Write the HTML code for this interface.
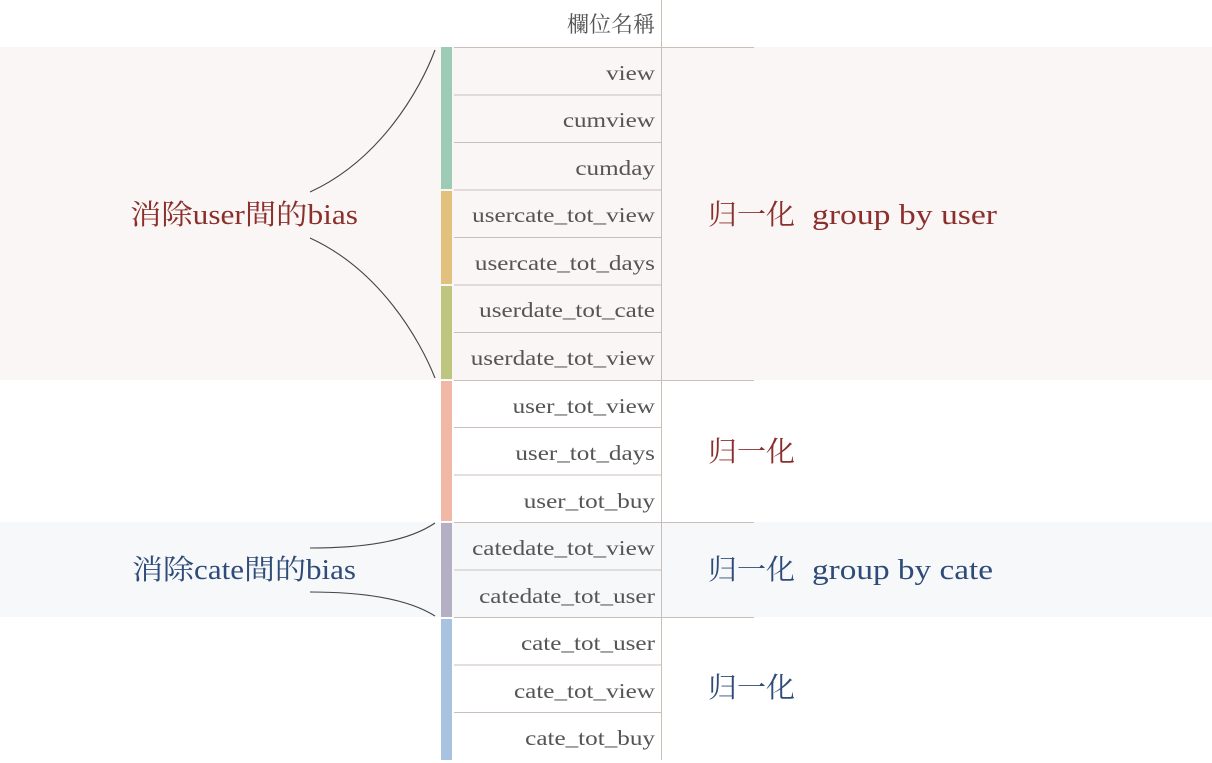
<!DOCTYPE html>
<html><head><meta charset="utf-8"><style>
html,body{margin:0;padding:0;background:#fff;}
svg{display:block}
text{font-family:"Liberation Serif","Noto Serif CJK SC",serif;}
</style></head><body>
<svg width="1212" height="763" viewBox="0 0 1212 763" xmlns="http://www.w3.org/2000/svg">
<rect x="0" y="47" width="1212" height="333" fill="#faf6f5"/>
<rect x="0" y="522" width="1212" height="95" fill="#f6f8fa"/>
<rect x="441" y="47" width="11" height="142" fill="#9dcbb5"/>
<rect x="441" y="191" width="11" height="93" fill="#e2c17e"/>
<rect x="441" y="286" width="11" height="93" fill="#bdc57f"/>
<rect x="441" y="381" width="11" height="140" fill="#f1b8a6"/>
<rect x="441" y="523" width="11" height="94" fill="#b5afc3"/>
<rect x="441" y="619" width="11" height="141" fill="#a7c3df"/>
<g stroke="#c9bfb8" stroke-width="1">
<line x1="661.5" y1="0" x2="661.5" y2="760"/>
<line x1="454" y1="47.5" x2="754" y2="47.5"/>
<line x1="454" y1="95" x2="661" y2="95"/>
<line x1="454" y1="142.5" x2="661" y2="142.5"/>
<line x1="454" y1="190" x2="661" y2="190"/>
<line x1="454" y1="237.5" x2="661" y2="237.5"/>
<line x1="454" y1="285" x2="661" y2="285"/>
<line x1="454" y1="332.5" x2="661" y2="332.5"/>
<line x1="454" y1="380.5" x2="754" y2="380.5"/>
<line x1="454" y1="427.5" x2="661" y2="427.5"/>
<line x1="454" y1="475" x2="661" y2="475"/>
<line x1="454" y1="522.5" x2="754" y2="522.5"/>
<line x1="454" y1="570" x2="661" y2="570"/>
<line x1="454" y1="617.5" x2="754" y2="617.5"/>
<line x1="454" y1="665" x2="661" y2="665"/>
<line x1="454" y1="712.5" x2="661" y2="712.5"/>
</g>
<text x="655" y="32" fill="#555" font-size="22" text-anchor="end">欄位名稱</text>
<g fill="#555" font-size="21.5" text-anchor="end" transform="scale(1.17,1)">
<text x="559.8" y="80">view</text>
<text x="559.8" y="127">cumview</text>
<text x="559.8" y="175">cumday</text>
<text x="559.8" y="222">usercate_tot_view</text>
<text x="559.8" y="270">usercate_tot_days</text>
<text x="559.8" y="317">userdate_tot_cate</text>
<text x="559.8" y="365">userdate_tot_view</text>
<text x="559.8" y="413">user_tot_view</text>
<text x="559.8" y="460">user_tot_days</text>
<text x="559.8" y="508">user_tot_buy</text>
<text x="559.8" y="555">catedate_tot_view</text>
<text x="559.8" y="603">catedate_tot_user</text>
<text x="559.8" y="650">cate_tot_user</text>
<text x="559.8" y="698">cate_tot_view</text>
<text x="559.8" y="745">cate_tot_buy</text>
</g>
<g font-size="28">
<text x="708" y="224" fill="#8b2f2c" textLength="87" lengthAdjust="spacingAndGlyphs">归一化</text>
<text x="812" y="224" fill="#8b2f2c" textLength="185" lengthAdjust="spacingAndGlyphs">group by user</text>
<text x="708" y="461" fill="#8b2f2c" textLength="87" lengthAdjust="spacingAndGlyphs">归一化</text>
<text x="708" y="579" fill="#2f4b78" textLength="87" lengthAdjust="spacingAndGlyphs">归一化</text>
<text x="812" y="579" fill="#2f4b78" textLength="181" lengthAdjust="spacingAndGlyphs">group by cate</text>
<text x="708" y="697" fill="#2f4b78" textLength="87" lengthAdjust="spacingAndGlyphs">归一化</text>
<text x="130" y="224" fill="#8b2f2c" textLength="228" lengthAdjust="spacingAndGlyphs">消除user間的bias</text>
<text x="132" y="579" fill="#2f4b78" textLength="224" lengthAdjust="spacingAndGlyphs">消除cate間的bias</text>
</g>
<g fill="none" stroke="#444" stroke-width="1.1">
<path d="M310,192 C380,160 420,90 435,50"/>
<path d="M310,238 C380,270 420,340 435,378"/>
<path d="M310,548 C370,548 410,540 435,523"/>
<path d="M310,592 C370,592 410,600 435,616"/>
</g>
</svg>
</body></html>
